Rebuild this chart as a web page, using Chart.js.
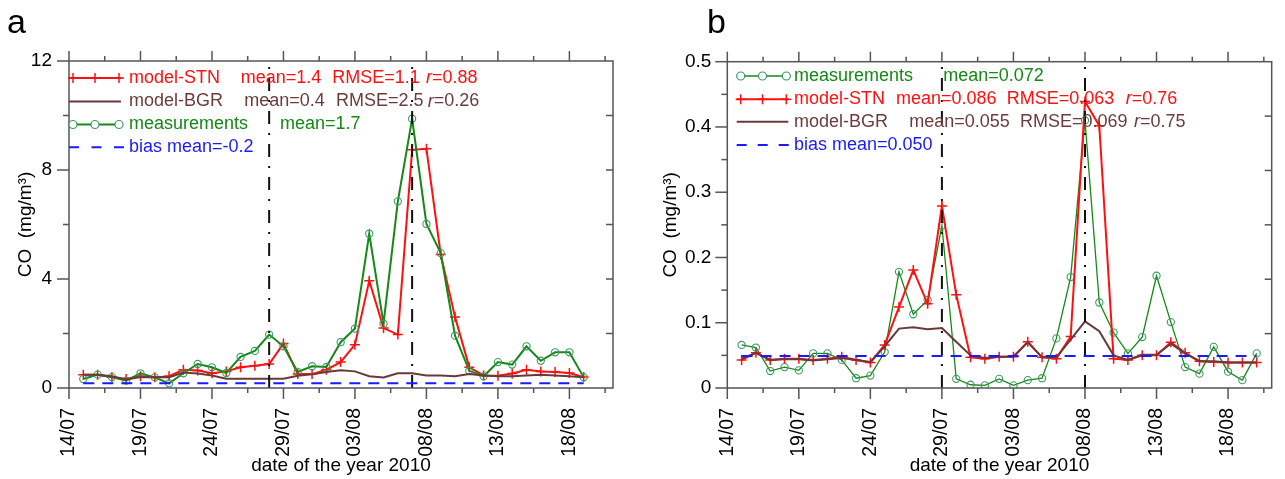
<!DOCTYPE html>
<html>
<head>
<meta charset="utf-8">
<script src="https://cdn.jsdelivr.net/npm/chart.js@4.4.1/dist/chart.umd.min.js"></script>
<style>
html, body { margin: 0; padding: 0; background: #fff; width: 1285px; height: 479px; overflow: hidden; }
.panel { position: absolute; top: 0; height: 479px; }
#pa { left: 0; width: 642px; }
#pb { left: 642px; width: 643px; }
</style>
</head>
<body>
<div class="panel" id="pa"><canvas id="ca" width="642" height="479"></canvas></div>
<div class="panel" id="pb"><canvas id="cb" width="643" height="479"></canvas></div>
<script>
// daily values, first day 15/07/2010
const firstDate = '15/07';

// panel a
const measA = [0.33, 0.49, 0.40, 0.27, 0.54, 0.39, 0.17, 0.54, 0.88, 0.76,
               0.55, 1.14, 1.36, 1.96, 1.53, 0.59, 0.80, 0.77, 1.68, 2.18,
               5.66, 2.36, 6.85, 9.88, 6.02, 4.95, 1.92, 0.63, 0.43, 0.95,
               0.86, 1.53, 1.00, 1.31, 1.31, 0.39];
const stnA  = [0.49, 0.49, 0.39, 0.33, 0.43, 0.39, 0.43, 0.67, 0.64, 0.54,
               0.61, 0.76, 0.82, 0.88, 1.63, 0.51, 0.51, 0.67, 0.95, 1.59,
               3.94, 2.20, 1.96, 8.74, 8.78, 4.90, 2.61, 0.76, 0.46, 0.45,
               0.53, 0.67, 0.61, 0.59, 0.55, 0.40];
const bgrA  = [0.49, 0.49, 0.43, 0.31, 0.40, 0.39, 0.39, 0.57, 0.53, 0.46,
               0.34, 0.34, 0.34, 0.34, 0.34, 0.45, 0.50, 0.59, 0.65, 0.61,
               0.43, 0.39, 0.54, 0.54, 0.46, 0.46, 0.43, 0.51, 0.46, 0.43,
               0.43, 0.46, 0.49, 0.46, 0.43, 0.39];
const biasA = 0.17;
const marksA = ['28/07', '07/08'];

// panel b
const measB = [0.066, 0.062, 0.026, 0.032, 0.027, 0.053, 0.053, 0.043, 0.015, 0.019,
               0.055, 0.178, 0.113, 0.135, 0.249, 0.014, 0.005, 0.004, 0.014, 0.004,
               0.012, 0.015, 0.076, 0.170, 0.410, 0.131, 0.085, 0.053, 0.078, 0.172,
               0.101, 0.032, 0.022, 0.063, 0.025, 0.012, 0.053];
const stnB  = [0.043, 0.054, 0.043, 0.045, 0.045, 0.043, 0.045, 0.048, 0.043, 0.039,
               0.066, 0.124, 0.181, 0.129, 0.279, 0.143, 0.047, 0.045, 0.048, 0.048,
               0.071, 0.047, 0.045, 0.079, 0.439, 0.402, 0.045, 0.043, 0.050, 0.050,
               0.070, 0.054, 0.041, 0.040, 0.039, 0.039, 0.039];
const bgrB  = [0.045, 0.054, 0.043, 0.044, 0.044, 0.042, 0.044, 0.046, 0.043, 0.040,
               0.064, 0.091, 0.093, 0.090, 0.092, 0.071, 0.050, 0.046, 0.048, 0.048,
               0.070, 0.047, 0.047, 0.074, 0.102, 0.087, 0.050, 0.043, 0.051, 0.051,
               0.068, 0.053, 0.041, 0.041, 0.039, 0.039, 0.039];
const biasB = 0.049;
const marksB = ['29/07', '08/08'];

const red = '#ff1010', green = '#168816', circ = '#3c9a66', brown = '#6a3a3a', blue = '#1a1aff';
const FONT = '"Liberation Sans", Arial, sans-serif';
Chart.defaults.font.family = FONT;
Chart.defaults.font.size = 19;
Chart.defaults.color = '#000';

// x axis is days after 14/07/2010
function dayOf(s) {
  const [d, m] = s.split('/').map(Number);
  return (Date.UTC(2010, m - 1, d) - Date.UTC(2010, 6, 14)) / 864e5;
}
function fmtDay(v) {
  const d = new Date(Date.UTC(2010, 6, 14 + v));
  const p = n => String(n).padStart(2, '0');
  return p(d.getUTCDate()) + '/' + p(d.getUTCMonth() + 1);
}
const day0 = dayOf(firstDate);
const pts = vals => vals.map((v, i) => ({x: day0 + i, y: v}));
const flat = (v, n) => [{x: day0, y: v}, {x: day0 + n - 1, y: v}];

function line(ctx, x1, y1, x2, y2) {
  ctx.beginPath(); ctx.moveTo(x1, y1); ctx.lineTo(x2, y2); ctx.stroke();
}

// box, ticks on four sides, legend and panel letter
const frame = {
  id: 'frame',
  afterDraw(chart, args, o) {
    const {ctx, chartArea: a, scales: {x, y}} = chart;
    ctx.save();
    ctx.strokeStyle = '#555';
    ctx.lineWidth = 1.5;
    ctx.strokeRect(a.left, a.top, a.right - a.left, a.bottom - a.top);
    for (let d = 0; d <= x.max + 1e-6; d += 2.5) {
      const px = x.getPixelForValue(d);
      const major = d % 5 === 0;
      line(ctx, px, a.bottom, px, a.bottom + (major ? 11 : 5));
      line(ctx, px, a.top, px, a.top - (major ? 10 : 5));
    }
    for (let k = 0; k * o.yMinor <= y.max + 1e-9; k++) {
      const py = y.getPixelForValue(k * o.yMinor);
      line(ctx, a.left, py, a.left - (k % 2 === 0 ? 12 : 6), py);
    }
    const h = (a.bottom - a.top) / 6;
    for (let k = 1; k < 6; k++) line(ctx, a.right, a.top + k * h, a.right - 7, a.top + k * h);

    // legend
    ctx.font = '18px ' + FONT;
    ctx.textBaseline = 'middle';
    o.legend.forEach(r => {
      ctx.save();
      ctx.strokeStyle = r.color;
      ctx.lineWidth = r.width;
      if (r.dash) ctx.setLineDash(r.dash);
      line(ctx, o.lx0, r.y, r.end || o.lx1, r.y);
      ctx.restore();
      const marks = [o.lx0 + 4, (o.lx0 + o.lx1) / 2, o.lx1 - 2];
      if (r.mark === 'cross') {
        ctx.strokeStyle = r.color; ctx.lineWidth = 1.5;
        marks.forEach(m => { line(ctx, m - 5, r.y, m + 5, r.y); line(ctx, m, r.y - 5, m, r.y + 5); });
      } else if (r.mark === 'circle') {
        ctx.strokeStyle = circ; ctx.lineWidth = 1.2;
        marks.forEach(m => { ctx.beginPath(); ctx.arc(m, r.y, 4, 0, 2 * Math.PI); ctx.fillStyle = '#fff'; ctx.fill(); ctx.stroke(); });
      }
      ctx.fillStyle = r.text;
      r.segs.forEach(([t, tx]) => {
        if (t.startsWith('r=')) {
          ctx.font = 'italic 18px ' + FONT;
          ctx.fillText('r', tx, r.y);
          const w = ctx.measureText('r').width;
          ctx.font = '18px ' + FONT;
          ctx.fillText(t.slice(1), tx + w, r.y);
        } else {
          ctx.fillText(t, tx, r.y);
        }
      });
    });

    ctx.fillStyle = '#000';
    ctx.font = '34px ' + FONT;
    ctx.textBaseline = 'alphabetic';
    ctx.fillText(o.letter, o.letterX, 33);
    ctx.restore();
  }
};

function makeChart(id, cfg) {
  const vline = s => ({
    data: [{x: dayOf(s), y: 0}, {x: dayOf(s), y: cfg.ymax}],
    borderColor: '#111', borderWidth: 2, borderDash: [13, 9, 2, 9],
    pointRadius: 0, order: 1
  });
  const datasets = [
    {data: flat(cfg.bias, cfg.meas.length), borderColor: blue, borderWidth: 2, borderDash: [11, 8], pointRadius: 0, order: 0},
    vline(cfg.marks[0]), vline(cfg.marks[1]),
    {data: pts(cfg.bgr), borderColor: brown, borderWidth: 2, pointRadius: 0, order: 3},
    {data: pts(cfg.stn), borderColor: red, borderWidth: 2, pointStyle: 'cross', pointRadius: 5,
     pointBorderColor: red, pointBorderWidth: 1.5, order: cfg.stnOrder},
    {data: pts(cfg.meas), borderColor: green, borderWidth: cfg.measWidth, pointStyle: 'circle', pointRadius: 3.6,
     pointBorderColor: circ, pointBackgroundColor: 'rgba(0,0,0,0)', pointBorderWidth: 1.1, order: cfg.measOrder}
  ];
  return new Chart(document.getElementById(id), {
    type: 'line',
    data: {datasets},
    options: {
      responsive: false,
      animation: false,
      devicePixelRatio: 1,
      layout: {padding: {left: 0, top: cfg.top, right: cfg.right, bottom: 0}},
      plugins: {legend: {display: false}, tooltip: {enabled: false}, frame: cfg.frame},
      scales: {
        x: {
          type: 'linear', min: 0, max: 38.05,
          grid: {display: false, drawTicks: true, tickLength: 11},
          border: {display: false},
          ticks: {stepSize: 5, includeBounds: false, minRotation: 90, maxRotation: 90, padding: 9,
                  font: {size: 19.5}, autoSkip: false,
                  callback: v => (v % 5 === 0 ? fmtDay(v) : '')},
          title: {display: true, text: 'date of the year 2010', padding: {top: 0, bottom: 1.6}},
          afterFit: s => { s.height = 91; }
        },
        y: {
          min: 0, max: cfg.ymax,
          grid: {display: false, drawTicks: true, tickLength: 12},
          border: {display: false},
          ticks: {stepSize: cfg.ystep, padding: cfg.ypad},
          title: {display: true, text: 'CO  (mg/m³)', padding: {top: cfg.ytitle, bottom: 0}},
          afterFit: s => { s.width = cfg.yw; }
        }
      }
    },
    plugins: [frame]
  });
}

makeChart('ca', {
  meas: measA, stn: stnA, bgr: bgrA, bias: biasA, marks: marksA,
  ymax: 12, ystep: 4, yw: 69, ypad: 5, ytitle: 14.6, top: 61, right: 29,
  measWidth: 2, measOrder: 4, stnOrder: 5,
  frame: {
    yMinor: 2, letter: 'a', letterX: 7, lx0: 69, lx1: 121,
    legend: [
      {y: 78, color: red, width: 2, mark: 'cross', text: red,
       segs: [['model-STN', 129], ['mean=1.4', 240.7], ['RMSE=1.1', 332.3], ['r=0.88', 426]]},
      {y: 101.5, color: brown, width: 2, text: '#6b3c3c',
       segs: [['model-BGR', 129], ['mean=0.4', 244.3], ['RMSE=2.5', 336], ['r=0.26', 427.7]]},
      {y: 124.5, color: green, width: 2, mark: 'circle', text: green,
       segs: [['measurements', 129], ['mean=1.7', 280]]},
      {y: 147.3, color: blue, width: 2, dash: [10, 12.5], end: 124, text: blue,
       segs: [['bias mean=-0.2', 129]]}
    ]
  }
});

makeChart('cb', {
  meas: measB, stn: stnB, bgr: bgrB, bias: biasB, marks: marksB,
  ymax: 0.5, ystep: 0.1, yw: 85.3, ypad: 4, ytitle: 17.6, top: 61.7, right: 13.3,
  measWidth: 1.3, measOrder: 5, stnOrder: 4,
  frame: {
    yMinor: 0.05, letter: 'b', letterX: 65, lx0: 94.7, lx1: 146.3,
    legend: [
      {y: 76, color: green, width: 1.3, mark: 'circle', text: green,
       segs: [['measurements', 152], ['mean=0.072', 301.3]]},
      {y: 99.3, color: red, width: 2, mark: 'cross', text: red,
       segs: [['model-STN', 152], ['mean=0.086', 254], ['RMSE=0.063', 364.7], ['r=0.76', 483.7]]},
      {y: 121.7, color: brown, width: 2, text: '#6b3c3c',
       segs: [['model-BGR', 152], ['mean=0.055', 267.3], ['RMSE=0.069', 378], ['r=0.75', 492]]},
      {y: 145, color: blue, width: 2, dash: [10, 11], end: 146.7, text: blue,
       segs: [['bias mean=0.050', 152]]}
    ]
  }
});
</script>
</body>
</html>
